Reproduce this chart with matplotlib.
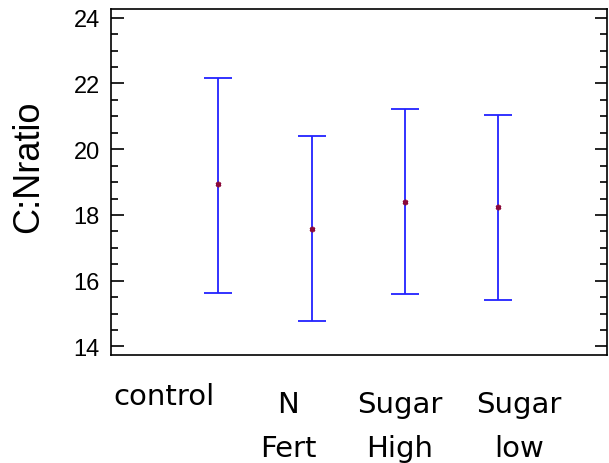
import matplotlib
matplotlib.use("Agg")
import matplotlib.pyplot as plt
from matplotlib.ticker import MultipleLocator

groups = ["control", "N\nFert", "Sugar\nHigh", "Sugar\nlow"]
means = [18.94, 17.57, 18.39, 18.25]
upper = [22.17, 20.41, 21.23, 21.04]
lower = [15.64, 14.77, 15.60, 15.42]
label_pos = [0.418, 1.746, 2.946, 4.222]

x = [1, 2, 3, 4]
err_low = [m - l for m, l in zip(means, lower)]
err_high = [u - m for u, m in zip(upper, means)]

fig = plt.figure(figsize=(6.09, 4.64), dpi=100)
ax = fig.add_axes([0.1823, 0.2328, 0.8144, 0.7467])

ax.errorbar(x, means, yerr=[err_low, err_high], fmt="none", ecolor="#2222FF",
            elinewidth=1.3, capsize=10, capthick=1.3)
ax.plot(x, means, linestyle="none", marker=(6, 2, 0), markersize=4,
        color="#8B0A3A", markeredgewidth=1.2)

ax.set_xlim(-0.15, 5.165)
ax.set_ylim(13.74, 24.28)
ax.yaxis.set_major_locator(MultipleLocator(2))
ax.yaxis.set_minor_locator(MultipleLocator(0.5))
ax.tick_params(axis="y", which="major", direction="in", length=9, width=1.2,
               right=True, labelsize=17, pad=8)
ax.tick_params(axis="y", which="minor", direction="in", length=5, width=1.2,
               right=True)
for lab in ax.get_yticklabels():
    lab.set_fontfamily("Liberation Sans")

ax.set_xticks([])
tr = ax.get_xaxis_transform()
for pos, name in zip(label_pos, groups):
    lines = name.split("\n")
    if len(lines) == 1:
        ax.text(pos, -0.1414, lines[0], transform=tr, ha="center",
                va="baseline", fontsize=21, fontfamily="DejaVu Sans")
    else:
        ax.text(pos, -0.1645, lines[0], transform=tr, ha="center",
                va="baseline", fontsize=21, fontfamily="DejaVu Sans")
        ax.text(pos, -0.2915, lines[1], transform=tr, ha="center",
                va="baseline", fontsize=21, fontfamily="DejaVu Sans")

for s in ax.spines.values():
    s.set_linewidth(1.2)

ax.set_ylabel("C:Nratio", fontsize=26, fontfamily="Liberation Sans")
ax.yaxis.set_label_coords(-0.131, 0.545)

fig.savefig("out.png", dpi=100)
